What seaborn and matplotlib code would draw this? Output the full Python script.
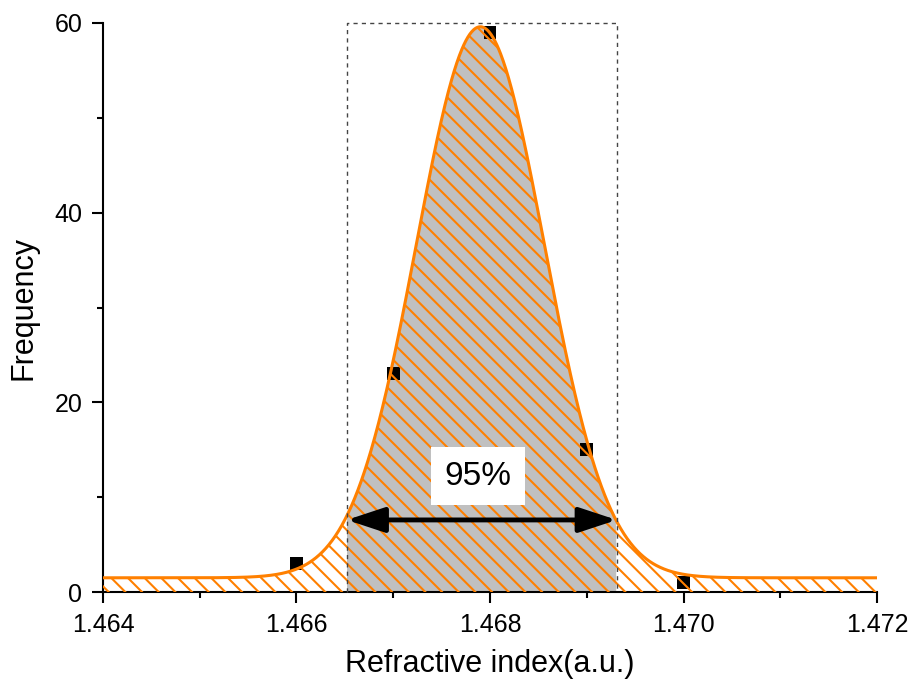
import numpy as np
import pandas as pd
import matplotlib
matplotlib.use("Agg")
import matplotlib.pyplot as plt
import seaborn as sns

# measured points
x_points = [1.466, 1.467, 1.468, 1.469, 1.470]
y_points = [3, 23, 59, 15, 1]

# Gaussian fit parameters
fit_y0 = 1.5
fit_A = 58.1
fit_xc = 1.4679
fit_w = 0.00066

# 95% interval bounds
ci_low = 1.46652
ci_high = 1.46931
arrow_y = 7.6
label_text = "95%"

x_ticks = [1.464, 1.466, 1.468, 1.470, 1.472]
y_ticks = [0, 20, 40, 60]

sns.set_theme(style="ticks")
plt.rcParams['font.family'] = ['Liberation Sans', 'DejaVu Sans']
plt.rcParams['hatch.linewidth'] = 1.5
plt.rcParams['hatch.color'] = '#FF8000'
plt.rcParams['text.color'] = 'black'
plt.rcParams['axes.labelcolor'] = 'black'
plt.rcParams['xtick.color'] = 'black'
plt.rcParams['ytick.color'] = 'black'

fig = plt.figure(figsize=(9.13, 6.88), dpi=100)
ax = fig.add_axes([0.1128, 0.1395, 0.8478, 0.8271])

xs = np.linspace(1.464, 1.472, 1200)
ys = fit_y0 + fit_A * np.exp(-((xs - fit_xc) ** 2) / (2 * fit_w ** 2))
curve = pd.DataFrame({"x": xs, "y": ys})
pts = pd.DataFrame({"x": x_points, "y": y_points})

# gray 95% region
mask = (xs >= ci_low) & (xs <= ci_high)
ax.fill_between(xs, 0, ys, where=mask, facecolor='#C0C0C0', edgecolor='none', zorder=1)

# data markers
sns.scatterplot(data=pts, x="x", y="y", marker="s", s=85, color="black",
                edgecolor="none", ax=ax, zorder=2)

# hatch under whole curve
ax.fill_between(xs, 0, ys, facecolor='none', edgecolor='#FF8000', hatch='\\\\',
                linewidth=0, zorder=3)

# fitted curve
sns.lineplot(data=curve, x="x", y="y", color="#FF8000", linewidth=2.2, ax=ax, zorder=4)

# dotted rectangle
ax.plot([ci_low, ci_low, ci_high, ci_high], [0, 60, 60, 0], color='#444444',
        linewidth=1.0, linestyle=(0, (3, 3)), zorder=5, clip_on=False)

# double arrow
ax.annotate('', xy=(ci_low, arrow_y), xytext=(ci_high, arrow_y),
            arrowprops=dict(arrowstyle='<|-|>,head_length=1.15,head_width=0.38',
                            mutation_scale=20, lw=3.5, color='black',
                            shrinkA=0, shrinkB=0), zorder=6)

ax.text((ci_low + ci_high) / 2 - 0.00004, 12.2, label_text, fontsize=24,
        ha='center', va='center', zorder=7, color='black',
        bbox=dict(boxstyle='square,pad=0.4', facecolor='white', edgecolor='none'))

ax.set_xlim(1.464, 1.472)
ax.set_ylim(0, 60)
ax.set_xticks(x_ticks)
ax.set_xticklabels([f"{t:.3f}" for t in x_ticks])
ax.set_yticks(y_ticks)
ax.set_xticks([1.465, 1.467, 1.469, 1.471], minor=True)
ax.set_yticks([10, 30, 50], minor=True)

ax.set_xlabel("Refractive index(a.u.)", fontsize=22, labelpad=9, color='black')
ax.set_ylabel("Frequency", fontsize=22, labelpad=11, color='black')

ax.tick_params(which='major', direction='out', length=8, width=1.5, labelsize=18,
               colors='black', pad=7)
ax.tick_params(which='minor', direction='out', length=4, width=1.5, colors='black')
for s in ['top', 'right']:
    ax.spines[s].set_visible(False)
for s in ['left', 'bottom']:
    ax.spines[s].set_linewidth(1.5)
    ax.spines[s].set_color('black')
ax.set_facecolor('white')
if ax.get_legend():
    ax.get_legend().remove()

fig.savefig("out.png", dpi=100, facecolor='white')
